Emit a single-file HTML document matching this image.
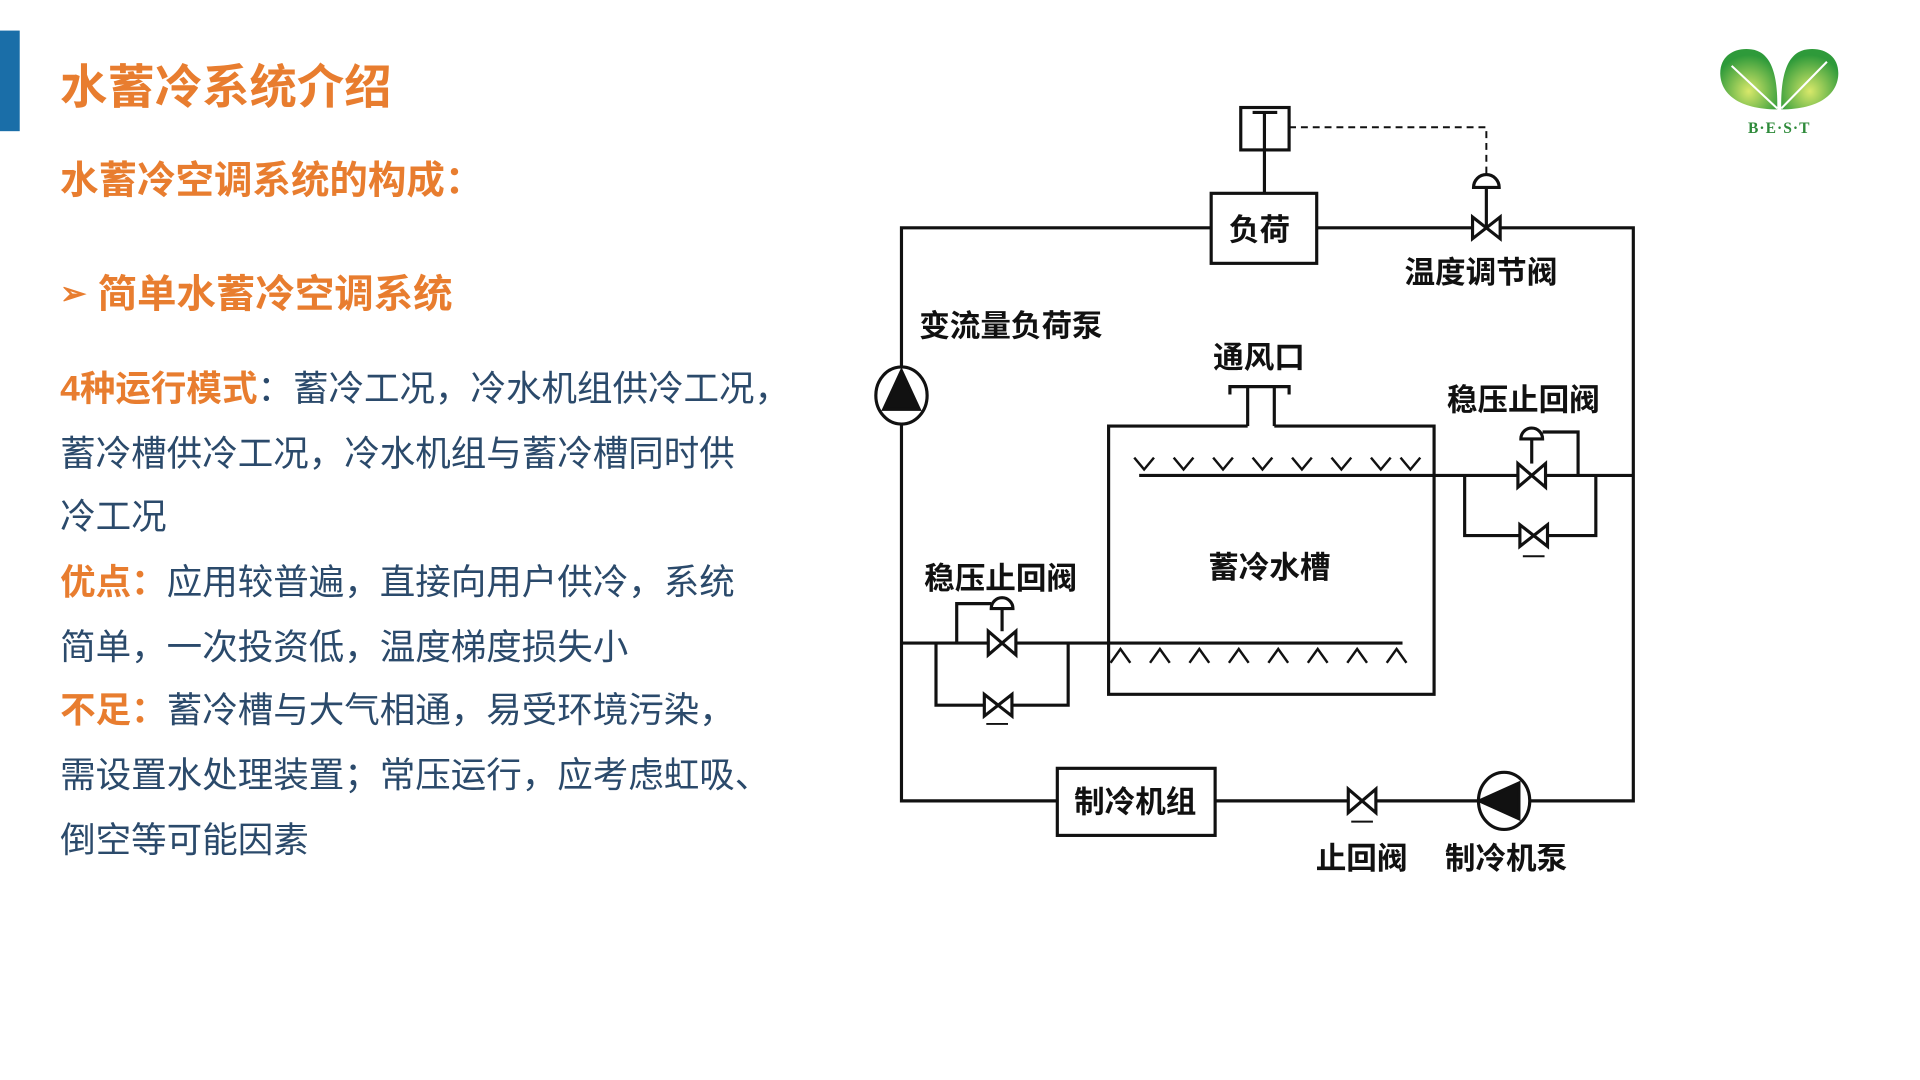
<!DOCTYPE html>
<html><head><meta charset="utf-8">
<style>
body{margin:0;width:1920px;height:1080px;background:#fff;overflow:hidden;position:relative;font-family:"Liberation Sans","Noto Sans CJK SC",sans-serif;}
#w{position:absolute;left:0;top:0;width:1947px;height:1095px;transform:scale(0.9863);transform-origin:0 0;}
.bar{position:absolute;left:0;top:31px;width:20px;height:102px;background:#1a6ea8;}
.t{position:absolute;color:#e87d2f;font-weight:bold;white-space:nowrap;}
.b{position:absolute;left:61px;font-size:36px;color:#2b4a6b;white-space:nowrap;line-height:40px;}
.b span{color:#e87d2f;font-weight:bold;}
</style></head><body><div id="w">
<div class="bar"></div>
<div class="t" style="left:61px;top:49px;font-size:48px;">水蓄冷系统介绍</div>
<div class="t" style="left:61px;top:152px;font-size:39px;">水蓄冷空调系统的构成：</div>
<div class="t" style="left:61px;top:266px;font-size:40px;"><span style="font-size:32px;position:relative;top:-4px">➢</span>&nbsp;简单水蓄冷空调系统</div>
<div class="b" style="top:374px"><span>4种运行模式</span>：蓄冷工况，冷水机组供冷工况，</div>
<div class="b" style="top:440px">蓄冷槽供冷工况，冷水机组与蓄冷槽同时供</div>
<div class="b" style="top:504px">冷工况</div>
<div class="b" style="top:570px"><span>优点：</span>应用较普遍，直接向用户供冷，系统</div>
<div class="b" style="top:636px">简单，一次投资低，温度梯度损失小</div>
<div class="b" style="top:700px"><span>不足：</span>蓄冷槽与大气相通，易受环境污染，</div>
<div class="b" style="top:766px">需设置水处理装置；常压运行，应考虑虹吸、</div>
<div class="b" style="top:832px">倒空等可能因素</div>

<svg width="1947" height="1095" style="position:absolute;left:0;top:0" xmlns="http://www.w3.org/2000/svg">
<defs><radialGradient id="g" cx="0.5" cy="0.7" r="0.6"><stop offset="0" stop-color="#d8e86a"/><stop offset="1" stop-color="#2e9a3a"/></radialGradient></defs>
<g transform="translate(1804,92) scale(1.05) translate(-1779,-92)">
<path d="M1777 110 C1740 110 1722 95 1722 75 C1722 58 1736 50 1752 52 C1768 54 1778 70 1777 110Z" fill="url(#g)"/>
<path d="M1781 110 C1818 110 1836 95 1836 75 C1836 58 1822 50 1806 52 C1790 54 1780 70 1781 110Z" fill="url(#g)"/>
<line x1="1733" y1="68" x2="1777" y2="109" stroke="#fff" stroke-width="2"/>
<line x1="1825" y1="64" x2="1781" y2="109" stroke="#fff" stroke-width="2"/>
<text x="1779" y="133" font-family="Liberation Serif" font-size="15" font-weight="bold" fill="#2e8a3a" text-anchor="middle" letter-spacing="1">B·E·S·T</text>
</g>

<g stroke="#111" stroke-width="3.2" fill="none">
<polyline points="1228,231 914,231 914,812 1072,812"/>
<polyline points="1335,231 1496,231"/><polyline points="1518,231 1656,231 1656,812 1552,812"/>
<line x1="1498" y1="812" x2="1395" y2="812"/><line x1="1367" y1="812" x2="1232" y2="812"/>
<rect x="1228" y="196" width="107" height="71" fill="#fff"/>
<rect x="1258" y="109" width="49" height="43"/>
<line x1="1270" y1="114" x2="1295" y2="114"/>
<line x1="1282" y1="114" x2="1282" y2="196"/>
<polyline points="1307,129 1507,129 1507,180" stroke-dasharray="7,5" stroke-width="2"/>
<path d="M1494 190 a13 13 0 0 1 26 0 z" fill="#fff"/>
<line x1="1507" y1="190" x2="1507" y2="231"/>
<path d="M1493 220 L1521 242 L1521 220 L1493 242 Z" fill="#fff"/>
<ellipse cx="914" cy="401" rx="26" ry="29" fill="#fff"/>
<path d="M914 376 L896 415 L932 415 Z" fill="#111"/>
<polyline points="1247,400 1247,392 1307,392 1307,400"/>
<polyline points="1265,392 1265,432"/><polyline points="1292,392 1292,432"/>
<polyline points="1265,432 1124,432 1124,704 1454,704 1454,432 1292,432"/>
<line x1="1155" y1="482" x2="1540" y2="482"/><line x1="1566" y1="482" x2="1656" y2="482"/>
<line x1="914" y1="652" x2="1003" y2="652"/><line x1="1029" y1="652" x2="1422" y2="652"/>
<path d="M1539 470 L1567 494 L1567 470 L1539 494 Z" fill="#fff"/>
<path d="M1542 445 a11 11 0 0 1 22 0 z" fill="#fff"/>
<line x1="1553" y1="445" x2="1553" y2="470"/>
<polyline points="1564,438 1600,438 1600,482"/>
<polyline points="1485,482 1485,543 1541,543"/><polyline points="1569,543 1618,543 1618,482"/>
<path d="M1541 532 L1569 554 L1569 532 L1541 554 Z" fill="#fff"/>
<line x1="1544" y1="564" x2="1566" y2="564" stroke-width="2"/>
<path d="M1002 640 L1030 664 L1030 640 L1002 664 Z" fill="#fff"/>
<path d="M1005 617 a11 11 0 0 1 22 0 z" fill="#fff"/>
<line x1="1016" y1="617" x2="1016" y2="640"/>
<polyline points="1005,612 970,612 970,652"/>
<polyline points="949,652 949,715 998,715"/><polyline points="1026,715 1083,715 1083,652"/>
<path d="M998 704 L1026 726 L1026 704 L998 726 Z" fill="#fff"/>
<line x1="1000" y1="734" x2="1022" y2="734" stroke-width="2"/>
<rect x="1072" y="779" width="160" height="68" fill="#fff"/>
<path d="M1367 800 L1395 824 L1395 800 L1367 824 Z" fill="#fff"/>
<line x1="1370" y1="833" x2="1392" y2="833" stroke-width="2"/>
<ellipse cx="1525" cy="812" rx="26" ry="29" fill="#fff"/>
<path d="M1500 812 L1540 794 L1540 830 Z" fill="#111"/>
</g>
<g stroke="#111" stroke-width="2.5" fill="none">
<polyline points="1150,464 1160,476 1170,464"/><polyline points="1190,464 1200,476 1210,464"/><polyline points="1230,464 1240,476 1250,464"/><polyline points="1270,464 1280,476 1290,464"/><polyline points="1310,464 1320,476 1330,464"/><polyline points="1350,464 1360,476 1370,464"/><polyline points="1390,464 1400,476 1410,464"/><polyline points="1420,464 1430,476 1440,464"/>
<polyline points="1126,672 1136,658 1146,672"/><polyline points="1166,672 1176,658 1186,672"/><polyline points="1206,672 1216,658 1226,672"/><polyline points="1246,672 1256,658 1266,672"/><polyline points="1286,672 1296,658 1306,672"/><polyline points="1326,672 1336,658 1346,672"/><polyline points="1366,672 1376,658 1386,672"/><polyline points="1406,672 1416,658 1426,672"/>
</g>
<g font-family="Liberation Sans,Noto Sans CJK SC,sans-serif" font-size="31" font-weight="bold" fill="#111">
<text x="1246" y="244">负荷</text>
<text x="1424" y="287">温度调节阀</text>
<text x="932" y="341">变流量负荷泵</text>
<text x="1230" y="373">通风口</text>
<text x="1467" y="416">稳压止回阀</text>
<text x="1225" y="586">蓄冷水槽</text>
<text x="937" y="597">稳压止回阀</text>
<text x="1089" y="824">制冷机组</text>
<text x="1334" y="881">止回阀</text>
<text x="1465" y="881">制冷机泵</text>
</g>
</svg>
</div></body></html>
